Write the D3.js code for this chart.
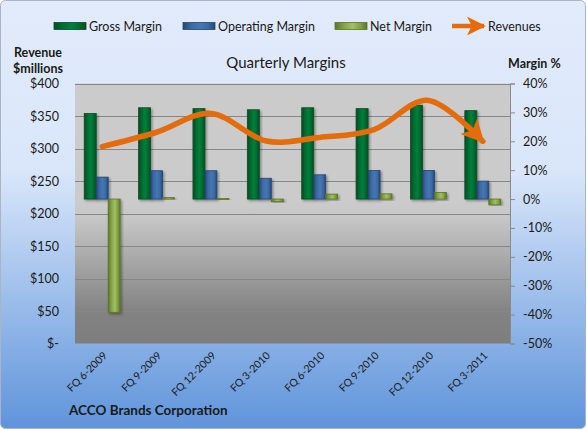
<!DOCTYPE html>
<html>
<head>
<meta charset="utf-8">
<script src="https://cdn.jsdelivr.net/npm/d3@7"></script>
<style>
  body { margin: 0; background: #fff; }
  text { font-family: Lato, "Open Sans", sans-serif; fill: #1a1a1a; }
</style>
</head>
<body>
<div id="chart"></div>
<script>
const quarters = ["FQ 6-2009", "FQ 9-2009", "FQ 12-2009", "FQ 3-2010", "FQ 6-2010", "FQ 9-2010", "FQ 12-2010", "FQ 3-2011"];
const grossMargin = [0.296, 0.316, 0.313, 0.309, 0.316, 0.313, 0.325, 0.306];
const operatingMargin = [0.076, 0.098, 0.098, 0.072, 0.084, 0.099, 0.099, 0.062];
const netMargin = [-0.392, 0.005, 0.002, -0.009, 0.017, 0.018, 0.023, -0.02];
const revenues = [303, 325, 354, 312, 317, 329, 374, 311];
const revenueTicks = [0, 50, 100, 150, 200, 250, 300, 350, 400];
const marginTicks = [-0.5, -0.4, -0.3, -0.2, -0.1, 0, 0.1, 0.2, 0.3, 0.4];

const width = 587, height = 430;
const plot = { left: 75, right: 510, top: 83.5, bottom: 343.5 };

const series = [
  { name: "Gross Margin", values: grossMargin, fill: "#00692f", edge: "#0b4a24", mid: "#00803a" },
  { name: "Operating Margin", values: operatingMargin, fill: "#3b68a0", edge: "#254670", mid: "#4677b3" },
  { name: "Net Margin", values: netMargin, fill: "#81a041", edge: "#5b742a", mid: "#a3c063" }
];

const svg = d3.select("#chart").append("svg")
  .attr("width", width).attr("height", height);
const defs = svg.append("defs");

// chart background gradient
const bg = defs.append("linearGradient").attr("id", "bg").attr("x1", 0).attr("y1", 0).attr("x2", 0).attr("y2", 1);
bg.append("stop").attr("offset", "0%").attr("stop-color", "#e2ebfb");
bg.append("stop").attr("offset", "40%").attr("stop-color", "#d9e6fa");
bg.append("stop").attr("offset", "100%").attr("stop-color", "#5f94db");

const pg = defs.append("linearGradient").attr("id", "pg").attr("x1", 0).attr("y1", 0).attr("x2", 0).attr("y2", 1);
pg.append("stop").attr("offset", "0%").attr("stop-color", "#cbcbcb");
pg.append("stop").attr("offset", "46%").attr("stop-color", "#cbcbcb");
pg.append("stop").attr("offset", "52%").attr("stop-color", "#c6c6c6");
pg.append("stop").attr("offset", "88%").attr("stop-color", "#828282");
pg.append("stop").attr("offset", "100%").attr("stop-color", "#7e7e7e");

series.forEach((s, i) => {
  const g = defs.append("linearGradient").attr("id", "bar" + i).attr("x1", 0).attr("y1", 0).attr("x2", 1).attr("y2", 0);
  g.append("stop").attr("offset", "0%").attr("stop-color", s.edge);
  g.append("stop").attr("offset", "25%").attr("stop-color", s.fill);
  g.append("stop").attr("offset", "55%").attr("stop-color", s.mid);
  g.append("stop").attr("offset", "80%").attr("stop-color", s.fill);
  g.append("stop").attr("offset", "100%").attr("stop-color", s.edge);
});

defs.append("filter").attr("id", "shadow").attr("x", "-30%").attr("y", "-10%").attr("width", "160%").attr("height", "130%")
  .append("feDropShadow").attr("dx", 1.5).attr("dy", 1.5).attr("stdDeviation", 1.2)
  .attr("flood-color", "#000").attr("flood-opacity", 0.35);

defs.append("marker").attr("id", "arrow")
  .attr("viewBox", "0 0 10 10").attr("refX", 9).attr("refY", 5)
  .attr("markerWidth", 4.2).attr("markerHeight", 4.2)
  .attr("markerUnits", "strokeWidth").attr("orient", "auto")
  .append("path").attr("d", "M0,0 L10,5 L0,10 L2.5,5 Z").attr("fill", "#e46c0a");

svg.append("rect").attr("x", 0.5).attr("y", 0.5).attr("width", width - 2).attr("height", height - 2)
  .attr("rx", 5).attr("fill", "url(#bg)").attr("stroke", "#a9b4c4");

// scales
const x = d3.scaleBand().domain(quarters).range([plot.left, plot.right]);
const xs = d3.scaleBand().domain(d3.range(series.length)).range([0, x.bandwidth()]).paddingOuter(0.77);
const yRev = d3.scaleLinear().domain([0, 400]).range([plot.bottom, plot.top]);
const yPct = d3.scaleLinear().domain([-0.5, 0.4]).range([plot.bottom, plot.top]);

svg.append("rect").attr("x", plot.left).attr("y", plot.top)
  .attr("width", plot.right - plot.left).attr("height", plot.bottom - plot.top)
  .attr("fill", "url(#pg)");

// gridlines follow the revenue axis
svg.append("g").selectAll("line").data(revenueTicks.slice(1)).join("line")
  .attr("x1", plot.left).attr("x2", plot.right)
  .attr("y1", d => Math.round(yRev(d)) + 0.5).attr("y2", d => Math.round(yRev(d)) + 0.5)
  .attr("stroke", "#878787").attr("stroke-width", 1);

// left axis
const leftAxis = svg.append("g").attr("transform", `translate(${plot.left},0)`)
  .call(d3.axisLeft(yRev).tickValues(revenueTicks).tickSize(0).tickPadding(16)
    .tickFormat(d => d === 0 ? "$-" : "$" + d));
leftAxis.select(".domain").remove();
leftAxis.selectAll("text").style("font-size", "12.5px").attr("fill", "#1a1a1a");

// right axis
const rightAxis = svg.append("g").attr("transform", `translate(${plot.right},0)`)
  .call(d3.axisRight(yPct).tickValues(marginTicks).tickSize(5).tickPadding(8)
    .tickFormat(d => Math.round(d * 100) + "%"));
rightAxis.select(".domain").attr("stroke", "#8a8a8a");
rightAxis.selectAll(".tick line").attr("stroke", "#8a8a8a");
rightAxis.selectAll("text").style("font-size", "12.5px").attr("fill", "#1a1a1a");

// bars
const barG = svg.append("g");
series.forEach((s, i) => {
  barG.append("g").selectAll("rect").data(s.values).join("rect")
    .attr("x", (d, j) => x(quarters[j]) + xs(i))
    .attr("width", xs.bandwidth())
    .attr("y", d => yPct(Math.max(0, d)))
    .attr("height", d => Math.max(1, Math.abs(yPct(d) - yPct(0))))
    .attr("fill", `url(#bar${i})`)
    .attr("stroke", s.edge).attr("stroke-width", 0.8)
    .attr("filter", "url(#shadow)");
});

// revenue line
const line = d3.line()
  .x((d, i) => x(quarters[i]) + x.bandwidth() / 2)
  .y(d => yRev(d))
  .curve(d3.curveCardinal.tension(0));
svg.append("path").datum(revenues)
  .attr("d", line)
  .attr("fill", "none").attr("stroke", "#e46c0a").attr("stroke-width", 5.5)
  .attr("stroke-linecap", "round").attr("stroke-linejoin", "round")
  .attr("marker-end", "url(#arrow)");

// x labels
svg.append("g").selectAll("text").data(quarters).join("text")
  .attr("transform", d => `translate(${x(d) + x.bandwidth() / 2 + 3},${plot.bottom + 10}) rotate(-45)`)
  .attr("text-anchor", "end").attr("dy", "0.35em")
  .style("font-size", "10.5px")
  .text(d => d);

// titles
svg.append("text").attr("x", 286).attr("y", 68).attr("text-anchor", "middle")
  .style("font-size", "15px").text("Quarterly Margins");
svg.append("text").attr("x", 14).attr("y", 57).style("font-size", "12.5px").style("font-weight", "bold").text("Revenue");
svg.append("text").attr("x", 13).attr("y", 73).style("font-size", "12.5px").style("font-weight", "bold").text("$millions");
svg.append("text").attr("x", 508).attr("y", 68).style("font-size", "12.5px").style("font-weight", "bold").text("Margin %");
svg.append("text").attr("x", 69).attr("y", 415).style("font-size", "13.5px").style("font-weight", "bold").text("ACCO Brands Corporation");

// legend
const legendX = [54, 183, 335];
const legend = svg.append("g");
series.forEach((s, i) => {
  legend.append("rect").attr("x", legendX[i]).attr("y", 22.5).attr("width", 32).attr("height", 7)
    .attr("fill", `url(#bar${i})`).attr("stroke", s.edge).attr("stroke-width", 0.8);
  legend.append("text").attr("x", legendX[i] + 35).attr("y", 31).style("font-size", "12.5px").text(s.name);
});
legend.append("line").attr("x1", 452).attr("x2", 484).attr("y1", 26).attr("y2", 26)
  .attr("stroke", "#e46c0a").attr("stroke-width", 4.5).attr("marker-end", "url(#arrow)");
legend.append("text").attr("x", 488).attr("y", 31).style("font-size", "12.5px").text("Revenues");
</script>
</body>
</html>
